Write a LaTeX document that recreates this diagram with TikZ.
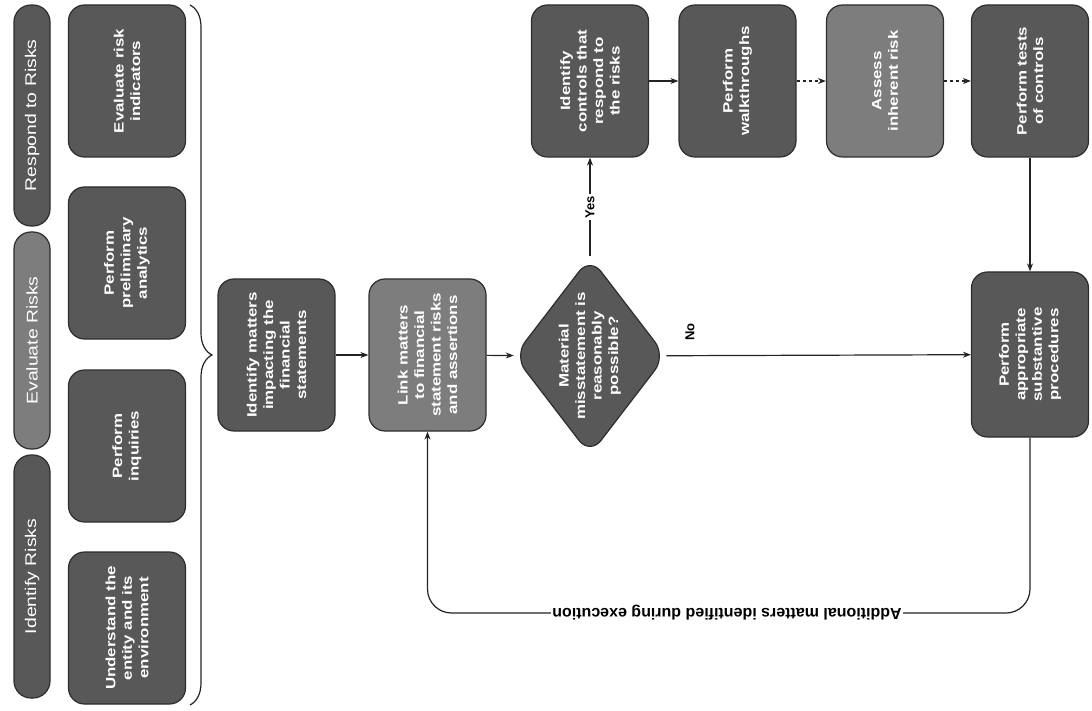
\documentclass[tikz,border=0pt]{standalone}
\usepackage{fontspec}
\setmainfont{Liberation Sans}
\newfontfamily\boxfont{Liberation Sans}[FakeStretch=1.25]
\usetikzlibrary{arrows.meta,shapes.geometric,decorations.pathreplacing}
\definecolor{taskgray}{RGB}{88,88,88}
\definecolor{softgray}{RGB}{125,125,125}
\definecolor{edgegray}{RGB}{45,45,45}
\definecolor{linegray}{RGB}{35,35,35}

\tikzset{
  task/.style={rectangle, rounded corners=16pt, draw=edgegray, line width=1.2pt,
    fill=taskgray, text=white, rotate=90, minimum width=152pt, minimum height=117pt,
    inner sep=2pt, align=center, font=\boxfont\bfseries\fontsize{13.5}{16.5}\selectfont},
  soft/.style={task, fill=softgray},
  phase/.style={rectangle, rounded corners=17pt, draw=edgegray, line width=1.2pt,
    fill=taskgray, text=white, rotate=90, minimum height=36pt, inner sep=0pt,
    font=\boxfont\fontsize{15.5}{17}\selectfont},
  decision/.style={diamond, rounded corners=18pt, draw=edgegray, line width=1.2pt,
    fill=taskgray, text=white, rotate=90, minimum width=198pt, minimum height=152pt,
    inner sep=-10pt, align=center, font=\boxfont\bfseries\fontsize{13.5}{16.5}\selectfont},
  flow/.style={draw=linegray, line width=1.2pt, -{Stealth[length=8pt,width=6pt]}},
  tag/.style={fill=white, inner sep=1.5pt, text=black, font=\bfseries\fontsize{13}{15}\selectfont},
}

\begin{document}
\begin{tikzpicture}[x=1pt, y=-1pt]
  \useasboundingbox (0,0) rectangle (1092,711);

  % phases
  \node[phase, minimum width=221pt] (respond) at (32,115.5) {Respond to Risks};
  \node[phase, fill=softgray, minimum width=217pt] (evaluate) at (32,340.5) {Evaluate Risks};
  \node[phase, minimum width=243pt] (identify) at (32,576.5) {Identify Risks};

  % risk assessment steps
  \node[task] (ind) at (127,81) {Evaluate risk\\indicators};
  \node[task] (ana) at (127,263) {Perform\\preliminary\\analytics};
  \node[task] (inq) at (127,446) {Perform\\inquiries};
  \node[task] (und) at (127,628) {Understand the\\entity and its\\environment};

  % brace
  \draw[linegray, line width=1.2pt, decorate, decoration={brace, amplitude=22pt}]
    (190,5) -- (190,705);

  % main flow
  \node[task] (idm) at (276.5,355) {Identify matters\\impacting the\\financial\\statements};
  \node[soft] (lnk) at (427.5,355) {Link matters\\to financial\\statement risks\\and assertions};
  \node[decision] (dec) at (590,356) {Material\\misstatement is\\reasonably\\possible?};
  \node[task] (ctl) at (590,81) {Identify\\controls that\\respond to\\the risks};
  \node[task] (wlk) at (737.5,81) {Perform\\walkthroughs};
  \node[soft] (inh) at (885,81) {Assess\\inherent risk};
  \node[task] (toc) at (1030,81) {Perform tests\\of controls};
  \node[task, minimum width=165pt] (sub) at (1030,354.5) {Perform\\appropriate\\substantive\\procedures};

  \draw[flow] (idm) -- (lnk);
  \draw[flow] (lnk) -- (dec);
  \draw[flow] (dec) -- node[tag, rotate=90] (yes) {Yes} (ctl);
  \draw[flow] (ctl) -- (wlk);
  \draw[flow, dashed] (wlk) -- (inh);
  \draw[flow, dashed] (inh) -- (toc);
  \draw[flow] (toc) -- (sub);
  \draw[flow] (dec) -- (sub);
  \node[tag, rotate=90] (no) at (690,332) {No};

  % loop back
  \coordinate (lp) at (727,613);
  \draw[flow, rounded corners=24pt] (sub.west) |- (lp) -| (lnk.west);
  \node[tag, rotate=180, font=\bfseries\fontsize{16}{18}\selectfont] (add) at (lp)
    {Additional matters identified during execution};
\end{tikzpicture}
\end{document}
